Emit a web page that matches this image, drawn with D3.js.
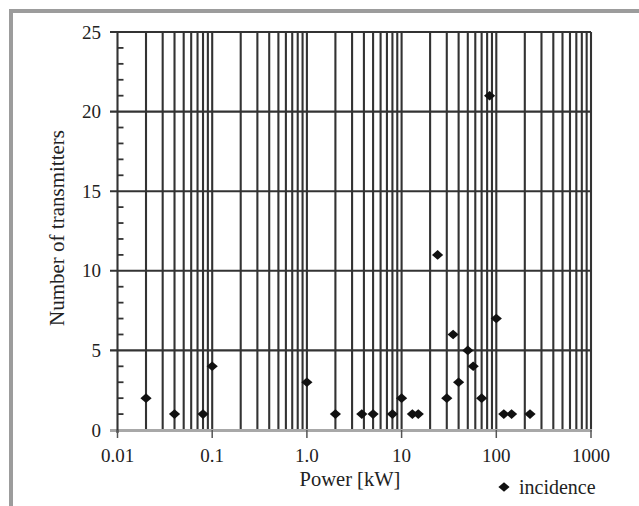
<!DOCTYPE html>
<html><head><meta charset="utf-8">
<script src="https://cdn.jsdelivr.net/npm/d3@7/dist/d3.min.js"></script>
<style>body{margin:0;background:#fff}svg{display:block}</style>
</head><body>
<svg id="c" width="639" height="506"></svg>
<script>
const power = [0.02,0.04,0.08,0.1,1.0,2.0,3.8,5.0,8.0,10,13,15,24,30,35,40,50,57,70,85,100,120,145,227];
const counts = [2,1,1,4,3,1,1,1,1,2,1,1,11,2,6,3,5,4,2,21,7,1,1,1];
const xTickValues = [0.01,0.1,1,10,100,1000];
const xTickLabels = ["0.01","0.1","1.0","10","100","1000"];
const yTickValues = [0,5,10,15,20,25];
const seriesName = "incidence";

const FONT = "'Liberation Serif', 'DejaVu Serif', 'Times New Roman', serif";
const svg = d3.select("#c");
const x = d3.scaleLog().domain([0.01,1000]).range([117.5,591]);
const y = d3.scaleLinear().domain([0,25]).range([430,32]);

// outer gray frame
svg.append("rect").attr("x",9).attr("y",9).attr("width",630).attr("height",4).attr("fill","#9c9c9c");
svg.append("rect").attr("x",9).attr("y",9).attr("width",4).attr("height",497).attr("fill","#9c9c9c");

const g = svg.append("g");
const gridCol = "#333";
const gw = 2.1;

// vertical grid lines
const vVals = x.ticks().filter(v => v > 0.0101);
g.selectAll("line.v").data(vVals).enter().append("line")
  .attr("x1",d=>x(d)).attr("x2",d=>x(d)).attr("y1",y(25)).attr("y2",y(0))
  .attr("stroke",gridCol).attr("stroke-width",gw);

// horizontal grid lines
g.selectAll("line.h").data(yTickValues.filter(v=>v>0)).enter().append("line")
  .attr("x1",110).attr("x2",x(1000)).attr("y1",d=>y(d)).attr("y2",d=>y(d))
  .attr("stroke",gridCol).attr("stroke-width",gw);

// bottom axis line (gray)
g.append("line").attr("x1",110).attr("x2",x(1000)+1).attr("y1",y(0)+0.5).attr("y2",y(0)+0.5)
  .attr("stroke","#a8a8a8").attr("stroke-width",3);

// left axis line
g.append("line").attr("x1",x(0.01)).attr("x2",x(0.01)).attr("y1",y(25)).attr("y2",y(0)+3)
  .attr("stroke",gridCol).attr("stroke-width",gw);

// y minor ticks
const yMinor = d3.range(1,25).filter(v=>v%5!==0);
g.selectAll("line.ym").data(yMinor).enter().append("line")
  .attr("x1",x(0.01)).attr("x2",x(0.01)+6).attr("y1",d=>y(d)).attr("y2",d=>y(d))
  .attr("stroke",gridCol).attr("stroke-width",1.8);

// x decade ticks below axis
g.selectAll("line.xt").data(xTickValues).enter().append("line")
  .attr("x1",d=>x(d)).attr("x2",d=>x(d)).attr("y1",y(0)).attr("y2",y(0)+8)
  .attr("stroke","#555").attr("stroke-width",1.5);

// tick labels
g.selectAll("text.xl").data(xTickValues).enter().append("text")
  .attr("font-family",FONT).attr("fill","#222")
  .attr("x",d=>x(d)).attr("y",462).attr("text-anchor","middle").attr("font-size",19)
  .text((d,i)=>xTickLabels[i]);
g.selectAll("text.yl").data(yTickValues).enter().append("text")
  .attr("font-family",FONT).attr("fill","#222")
  .attr("x",101).attr("y",d=>y(d)+6.5).attr("text-anchor","end").attr("font-size",19)
  .text(d=>d);

// axis titles
svg.append("text").attr("font-family",FONT).attr("fill","#222")
  .attr("x",350).attr("y",486).attr("text-anchor","middle").attr("font-size",20.5).text("Power [kW]");
svg.append("text").attr("font-family",FONT).attr("fill","#222")
  .attr("transform","translate(64,228) rotate(-90)").attr("text-anchor","middle").attr("font-size",21).text("Number of transmitters");

// diamonds
const diamond = "M0,-4.8L5.6,0L0,4.8L-5.6,0Z";
g.selectAll("path.pt").data(power).enter().append("path")
  .attr("d",diamond).attr("transform",(d,i)=>`translate(${x(d)},${y(counts[i])})`)
  .attr("fill","#111");

// legend
svg.append("path").attr("d",diamond).attr("transform","translate(504,487)").attr("fill","#111");
svg.append("text").attr("font-family",FONT).attr("fill","#222")
  .attr("x",519).attr("y",494).attr("font-size",20).text(seriesName);
</script>
</body></html>
